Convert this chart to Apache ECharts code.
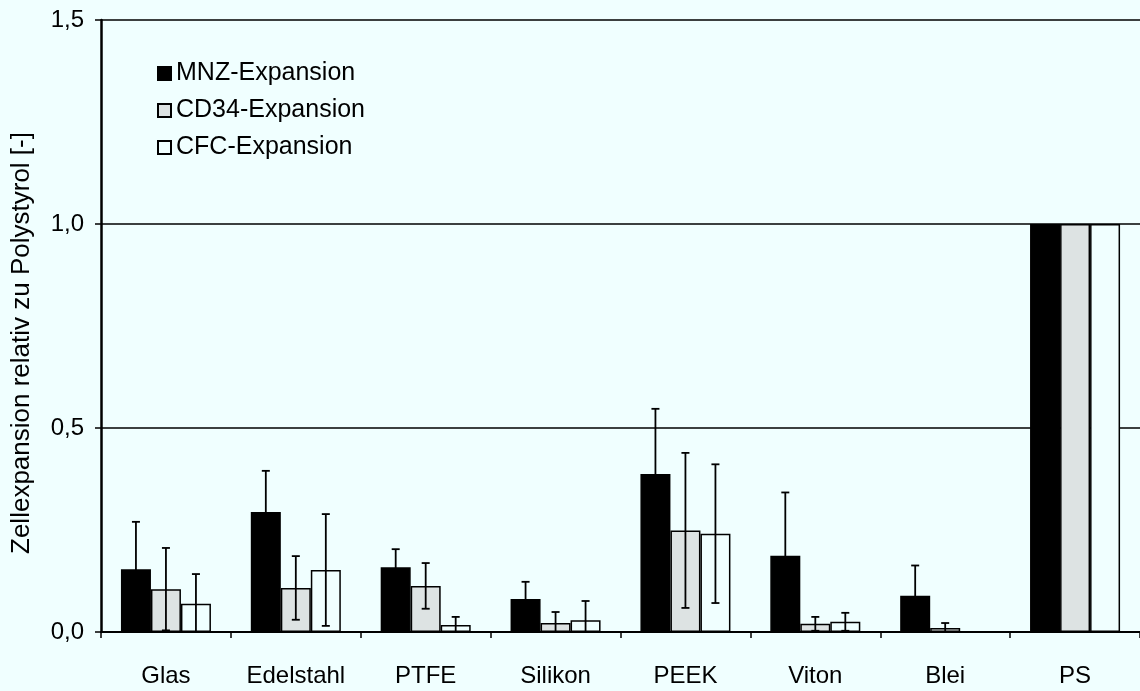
<!DOCTYPE html>
<html>
<head>
<meta charset="utf-8">
<script src="https://cdn.jsdelivr.net/npm/echarts@6/dist/echarts.min.js"></script>
<style>
html,body{margin:0;padding:0;background:#f0ffff;}
#chart{width:1140px;height:691px;}
</style>
</head>
<body>
<div id="chart"></div>
<script>
var categories = ['Glas','Edelstahl','PTFE','Silikon','PEEK','Viton','Blei','PS'];
var seriesNames = ['MNZ-Expansion','CD34-Expansion','CFC-Expansion'];
var mnz    = [0.154, 0.294, 0.159, 0.081, 0.387, 0.187, 0.089, 1.0];
var mnzErr = [0.116, 0.101, 0.044, 0.042, 0.160, 0.155, 0.074, 0];
var cd34    = [0.105, 0.108, 0.113, 0.022, 0.249, 0.020, 0.010, 1.0];
var cd34Err = [0.101, 0.078, 0.056, 0.027, 0.190, 0.017, 0.012, 0];
var cfc    = [0.069, 0.152, 0.017, 0.029, 0.241, 0.025, 0.000, 1.0];
var cfcErr = [0.073, 0.137, 0.020, 0.047, 0.170, 0.022, 0, 0];
var yTickLabels = ['0,0','0,5','1,0','1,5'];

var BG = '#f0ffff';
var FONT = 'Liberation Sans, Arial, sans-serif';
var barW = 30;
var values = [mnz, cd34, cfc];
var errs = [mnzErr, cd34Err, cfcErr];
var fills = ['#000000', '#dde3e3', BG];

var chart = echarts.init(document.getElementById('chart'));
var series = [];
values.forEach(function(vals, s){
  series.push({
    name: seriesNames[s],
    type: 'bar',
    data: vals,
    barWidth: barW,
    barGap: '0%',
    itemStyle: {color: fills[s], borderColor: '#000', borderWidth: 1.5},
    emphasis: {disabled: true},
    z: 2
  });
});
errs.forEach(function(errArr, s){
  var data = categories.map(function(c, i){ return [i, values[s][i], errArr[i]]; });
  series.push({
    type: 'custom',
    data: data,
    z: 5,
    silent: true,
    renderItem: function(params, api){
      var idx = api.value(0), v = api.value(1), e = api.value(2);
      if (!e) return null;
      var hi = api.coord([idx, v + e]);
      var lo = api.coord([idx, Math.max(0, v - e)]);
      var x = hi[0] + (s - 1) * barW;
      var cap = 4;
      var st = {stroke: '#000', lineWidth: 1.8};
      return {type: 'group', children: [
        {type: 'line', shape: {x1: x, y1: hi[1], x2: x, y2: lo[1]}, style: st},
        {type: 'line', shape: {x1: x - cap, y1: hi[1], x2: x + cap, y2: hi[1]}, style: st},
        {type: 'line', shape: {x1: x - cap, y1: lo[1], x2: x + cap, y2: lo[1]}, style: st}
      ]};
    }
  });
});

chart.setOption({
  backgroundColor: BG,
  animation: false,
  textStyle: {fontFamily: FONT},
  grid: {left: 101, right: 0, top: 20, bottom: 59},
  legend: {
    data: seriesNames,
    orient: 'vertical',
    left: 152, top: 56,
    itemWidth: 13, itemHeight: 13,
    itemGap: 12,
    icon: 'rect',
    textStyle: {fontSize: 25, color: '#000', fontFamily: FONT}
  },
  xAxis: {
    type: 'category',
    data: categories,
    axisLine: {lineStyle: {color: '#000', width: 2}},
    axisTick: {show: true, length: 6, lineStyle: {color: '#000', width: 1.5}},
    axisLabel: {color: '#000', fontSize: 24, margin: 32, fontFamily: FONT}
  },
  yAxis: {
    type: 'value',
    min: 0, max: 1.5, interval: 0.5,
    name: 'Zellexpansion relativ zu Polystyrol [-]',
    nameLocation: 'middle',
    nameGap: 66,
    nameTextStyle: {color: '#000', fontSize: 26, fontFamily: FONT, padding: [0, 34, 0, 0]},
    axisLine: {show: true, lineStyle: {color: '#000', width: 2.5}},
    axisTick: {show: true, length: 6, lineStyle: {color: '#000', width: 1.5}},
    axisLabel: {color: '#000', fontSize: 24, margin: 17, fontFamily: FONT,
      formatter: function(v, i){ return yTickLabels[i]; }},
    splitLine: {show: true, lineStyle: {color: '#000', width: 1.5}}
  },
  series: series
});
</script>
</body>
</html>
